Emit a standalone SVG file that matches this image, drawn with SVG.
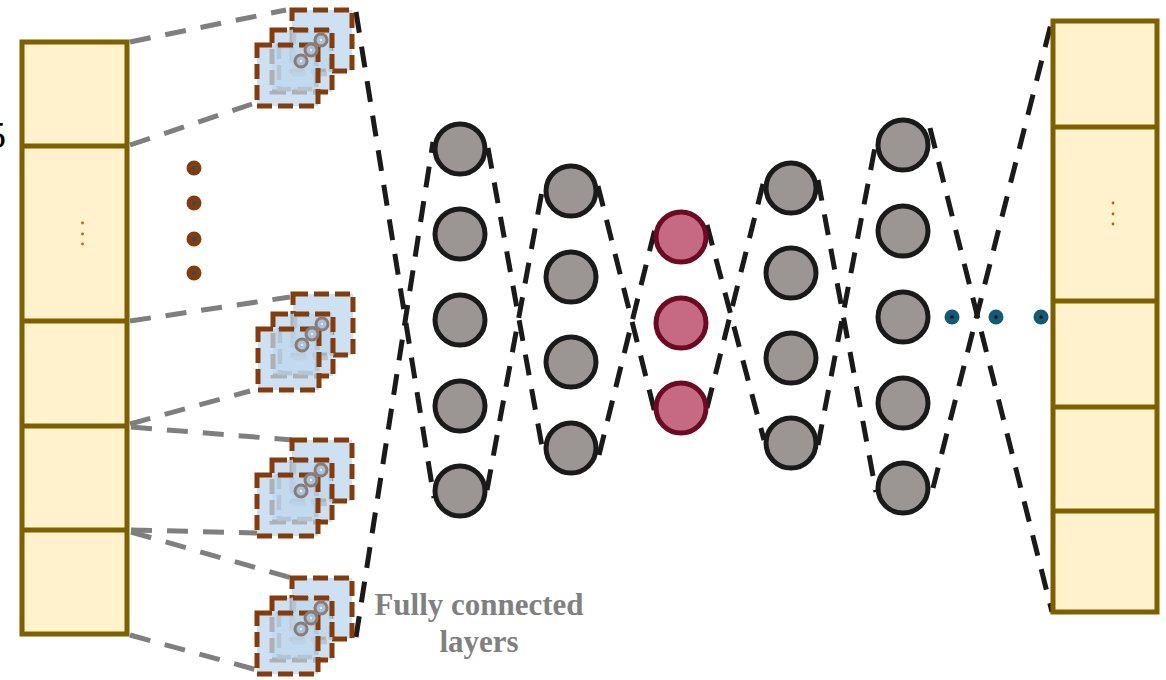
<svg xmlns="http://www.w3.org/2000/svg" xmlns:xlink="http://www.w3.org/1999/xlink" width="1166" height="680" viewBox="0 0 1166 680">
<style>
.col{fill:#fff2cc;stroke:#7f6000;stroke-width:5}
.div{stroke:#7f6000;stroke-width:5}
.odot{fill:#c55a11}
.gline{stroke:#7f7f7f;stroke-width:5;stroke-dasharray:21 15;fill:none}
.bline{stroke:#1a1a1a;stroke-width:5;stroke-dasharray:21 14;fill:none}
.sq{fill:#bdd7ee;fill-opacity:0.75;stroke:#843c0c;stroke-width:5;stroke-dasharray:15 6}
.gsq{fill:none;stroke:#9a8880;stroke-width:4.5;stroke-dasharray:15 6;opacity:0.9}
.ring{fill:#a9c3de;stroke:#8c7b74;stroke-width:3}
.wdot{fill:#ffffff}
.gnode{fill:#9b9694;stroke:#1a1a1a;stroke-width:5}
.rnode{fill:#c66a84;stroke:#6b0a22;stroke-width:5}
.bdot{fill:#843c0c}
.tdot{fill:#135a77}
.lbl{font-family:"Liberation Serif","DejaVu Serif",serif;font-weight:bold;font-size:31px;fill:#808080;text-anchor:middle}
</style>
<defs>
<g id="stack">
<rect class="sq" x="0" y="0" width="60" height="61"/>
<rect class="gsq" x="2" y="21" width="37" height="43"/>
<rect class="sq" x="-20" y="20" width="60" height="62"/>
<rect class="gsq" x="-13" y="36" width="37" height="43"/>
<rect class="sq" x="-35" y="35" width="61" height="61"/>
<circle class="ring" cx="9" cy="51" r="6"/>
<circle class="wdot" cx="9" cy="51" r="1"/>
<circle class="ring" cx="19" cy="40" r="6"/>
<circle class="wdot" cx="19" cy="40" r="1"/>
<circle class="ring" cx="29" cy="30" r="6"/>
<circle class="wdot" cx="29" cy="30" r="1"/>
</g>
</defs>
<rect width="1166" height="680" fill="#ffffff"/>
<text x="-13" y="148" font-family="Liberation Serif, serif" font-size="38" fill="#000000">5</text>

<g id="connectors">
<line class="gline" x1="130" y1="42" x2="286" y2="10"/>
<line class="gline" x1="130" y1="145" x2="252" y2="104"/>
<line class="gline" x1="130" y1="321" x2="290" y2="297"/>
<line class="gline" x1="130" y1="424" x2="250" y2="391"/>
<line class="gline" x1="131" y1="427" x2="292" y2="440"/>
<line class="gline" x1="131" y1="530" x2="257" y2="533"/>
<line class="gline" x1="131" y1="532" x2="292" y2="578"/>
<line class="gline" x1="130" y1="635" x2="257" y2="670"/>
<line class="bline" x1="356" y1="12" x2="434" y2="498"/>
<line class="bline" x1="356" y1="637" x2="433" y2="142"/>
<line class="bline" x1="488" y1="148" x2="543" y2="452"/>
<line class="bline" x1="487" y1="490" x2="543" y2="186"/>
<line class="bline" x1="598" y1="186" x2="655" y2="413"/>
<line class="bline" x1="599" y1="455" x2="655" y2="229"/>
<line class="bline" x1="707" y1="225" x2="764" y2="440"/>
<line class="bline" x1="707" y1="408" x2="764" y2="180"/>
<line class="bline" x1="818" y1="180" x2="876" y2="492"/>
<line class="bline" x1="818" y1="445" x2="876" y2="142"/>
<line class="bline" x1="930" y1="128" x2="1052" y2="612"/>
<line class="bline" x1="933" y1="488" x2="1052" y2="20"/>
</g>

<g id="input-column">
<rect class="col" x="22" y="42" width="105" height="592"/>
<line class="div" x1="22" y1="146" x2="127" y2="146"/>
<line class="div" x1="22" y1="321" x2="127" y2="321"/>
<line class="div" x1="22" y1="426" x2="127" y2="426"/>
<line class="div" x1="22" y1="530" x2="127" y2="530"/>
<circle class="odot" cx="82.5" cy="223" r="1.4"/>
<circle class="odot" cx="82.5" cy="234" r="1.4"/>
<circle class="odot" cx="82.5" cy="244" r="1.4"/>
</g>

<g id="conv-stack-1"><use xlink:href="#stack" href="#stack" x="292" y="10"/></g>
<g id="conv-stack-2"><use xlink:href="#stack" href="#stack" x="293" y="294"/></g>
<g id="conv-stack-3"><use xlink:href="#stack" href="#stack" x="292" y="440"/></g>
<g id="conv-stack-4"><use xlink:href="#stack" href="#stack" x="292" y="578"/></g>

<g id="ellipsis-dots">
<circle class="bdot" cx="194" cy="168" r="7.5"/><circle cx="194" cy="168" r="2" fill="#1f4e79"/>
<circle class="bdot" cx="194" cy="203" r="7.5"/><circle cx="194" cy="203" r="2" fill="#1f4e79"/>
<circle class="bdot" cx="194" cy="239" r="7.5"/><circle cx="194" cy="239" r="2" fill="#1f4e79"/>
<circle class="bdot" cx="194" cy="273" r="7.5"/><circle cx="194" cy="273" r="2" fill="#1f4e79"/>
</g>

<g id="layer-1">
<circle class="gnode" cx="460" cy="149" r="25"/>
<circle class="gnode" cx="460" cy="234" r="25"/>
<circle class="gnode" cx="460" cy="320" r="25"/>
<circle class="gnode" cx="460" cy="406" r="25"/>
<circle class="gnode" cx="460" cy="491" r="25"/>
</g>
<g id="layer-2">
<circle class="gnode" cx="571" cy="191" r="25"/>
<circle class="gnode" cx="571" cy="277" r="25"/>
<circle class="gnode" cx="571" cy="362" r="25"/>
<circle class="gnode" cx="571" cy="448" r="25"/>
</g>
<g id="layer-3">
<circle class="rnode" cx="681" cy="237" r="25"/>
<circle class="rnode" cx="681" cy="323" r="25"/>
<circle class="rnode" cx="681" cy="408" r="25"/>
</g>
<g id="layer-4">
<circle class="gnode" cx="791" cy="188" r="25"/>
<circle class="gnode" cx="791" cy="273" r="25"/>
<circle class="gnode" cx="791" cy="358" r="25"/>
<circle class="gnode" cx="791" cy="443" r="25"/>
</g>
<g id="layer-5">
<circle class="gnode" cx="903" cy="145" r="25"/>
<circle class="gnode" cx="903" cy="231" r="25"/>
<circle class="gnode" cx="903" cy="317" r="25"/>
<circle class="gnode" cx="903" cy="403" r="25"/>
<circle class="gnode" cx="903" cy="488" r="25"/>
</g>

<g id="teal-dots">
<circle class="tdot" cx="952" cy="317" r="7.5"/><circle cx="952" cy="317" r="1.8" fill="#111"/>
<circle class="tdot" cx="996" cy="317" r="7.5"/><circle cx="996" cy="317" r="1.8" fill="#111"/>
<circle class="tdot" cx="1041" cy="317" r="7.5"/><circle cx="1041" cy="317" r="1.8" fill="#111"/>
</g>

<g id="output-column">
<rect class="col" x="1053" y="21" width="104" height="591"/>
<line class="div" x1="1053" y1="127" x2="1157" y2="127"/>
<line class="div" x1="1053" y1="301" x2="1157" y2="301"/>
<line class="div" x1="1053" y1="407" x2="1157" y2="407"/>
<line class="div" x1="1053" y1="511" x2="1157" y2="511"/>
<circle class="odot" cx="1113" cy="203" r="1.4"/>
<circle class="odot" cx="1113" cy="214" r="1.4"/>
<circle class="odot" cx="1113" cy="224" r="1.4"/>
</g>

<g id="label">
<text class="lbl" x="479" y="615">Fully connected</text>
<text class="lbl" x="479" y="652">layers</text>
</g>
</svg>
